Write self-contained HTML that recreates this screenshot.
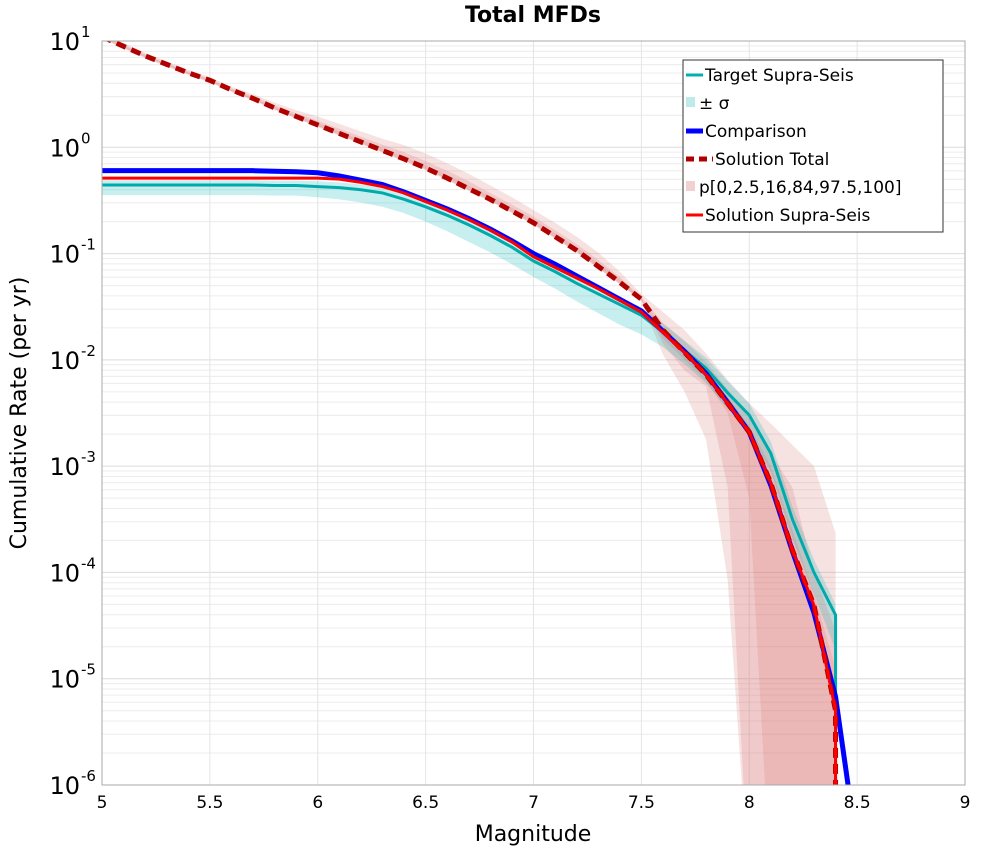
<!DOCTYPE html>
<html><head><meta charset="utf-8"><style>
body{margin:0;background:#fff;font-family:"Liberation Sans","DejaVu Sans",sans-serif}
svg text{font-family:"DejaVu Sans","Liberation Sans",sans-serif}
</style></head><body>
<svg id="chart" width="1000" height="850" viewBox="0 0 1000 850" xmlns="http://www.w3.org/2000/svg">
<text x="533" y="22" text-anchor="middle" font-size="22" font-weight="bold">Total MFDs</text>
<g id="grid"></g>
<g id="bands"></g>
<g id="lines"></g>
<rect x="102" y="41" width="863" height="744" fill="none" stroke="#aaa" stroke-width="1"/>
<g id="axes"></g>
<text x="533" y="841" text-anchor="middle" font-size="22">Magnitude</text>
<text x="0" y="0" transform="translate(26,413) rotate(-90)" text-anchor="middle" font-size="22">Cumulative Rate (per yr)</text>
<g>
<rect x="683" y="60" width="260" height="172" fill="#fff" stroke="#333" stroke-width="1"/>
<g><line x1="686" y1="75" x2="703" y2="75" stroke="#00b0b0" stroke-width="3"/><text x="705" y="81" font-size="17">Target Supra-Seis</text></g>
<g><rect x="686" y="97" width="9" height="10" fill="#bfeaea"/><text x="699" y="109" font-size="17">± σ</text></g>
<g><line x1="686" y1="131" x2="703" y2="131" stroke="#0000ff" stroke-width="5"/><text x="705" y="137" font-size="17">Comparison</text></g>
<g><line x1="686" y1="159" x2="713" y2="159" stroke="#b00000" stroke-width="5" stroke-dasharray="8,5"/><text x="715" y="165" font-size="17">Solution Total</text></g>
<g><rect x="686" y="181" width="9" height="10" fill="#f0d0d0"/><text x="699" y="193" font-size="17">p[0,2.5,16,84,97.5,100]</text></g>
<g><line x1="686" y1="215" x2="703" y2="215" stroke="#ff0000" stroke-width="3"/><text x="705" y="221" font-size="17">Solution Supra-Seis</text></g>
</g>
</svg>
<script>
const mags=[5.0,5.1,5.2,5.3,5.4,5.5,5.6,5.7,5.8,5.9,6.0,6.1,6.2,6.3,6.4,6.5,6.6,6.7,6.8,6.9,7.0,7.1,7.2,7.3,7.4,7.5,7.6,7.7,7.8,7.9,8.0,8.1,8.2,8.3,8.4,8.5];
const xTicks=[5,5.5,6,6.5,7,7.5,8,8.5,9];
const xTickLabels=["5","5.5","6","6.5","7","7.5","8","8.5","9"];
const yDecades=[1,0,-1,-2,-3,-4,-5,-6];
const targetLog=[-0.355,-0.355,-0.355,-0.355,-0.355,-0.355,-0.355,-0.355,-0.36,-0.36,-0.37,-0.38,-0.40,-0.43,-0.49,-0.56,-0.64,-0.73,-0.83,-0.94,-1.07,-1.17,-1.28,-1.38,-1.48,-1.58,-1.74,-1.91,-2.08,-2.31,-2.52,-2.88,-3.5,-4.0,-4.4,null];
const sigmaHiLog=[-0.31,-0.31,-0.31,-0.31,-0.31,-0.31,-0.31,-0.31,-0.315,-0.315,-0.32,-0.33,-0.35,-0.38,-0.44,-0.51,-0.59,-0.68,-0.78,-0.89,-1.01,-1.11,-1.22,-1.32,-1.42,-1.52,-1.66,-1.82,-1.98,-2.2,-2.41,-2.77,-3.38,-3.88,-4.3,null];
const sigmaLoLog=[-0.45,-0.45,-0.45,-0.45,-0.45,-0.45,-0.45,-0.45,-0.455,-0.455,-0.47,-0.49,-0.52,-0.56,-0.62,-0.70,-0.79,-0.89,-0.99,-1.1,-1.22,-1.33,-1.45,-1.56,-1.67,-1.76,-1.88,-2.04,-2.22,-2.46,-2.68,-3.05,-3.68,-4.2,-4.73,null];
const comparisonLog=[-0.22,-0.22,-0.22,-0.22,-0.22,-0.22,-0.22,-0.22,-0.225,-0.23,-0.24,-0.27,-0.31,-0.35,-0.42,-0.50,-0.58,-0.67,-0.77,-0.88,-1.0,-1.1,-1.21,-1.32,-1.43,-1.54,-1.73,-1.92,-2.13,-2.40,-2.68,-3.18,-3.80,-4.38,-5.17,-6.6];
const solSupraLog=[-0.29,-0.29,-0.29,-0.29,-0.29,-0.29,-0.29,-0.29,-0.29,-0.29,-0.29,-0.30,-0.33,-0.37,-0.43,-0.51,-0.59,-0.68,-0.78,-0.89,-1.03,-1.13,-1.23,-1.33,-1.44,-1.55,-1.74,-1.93,-2.14,-2.41,-2.68,-3.16,-3.79,-4.31,-5.3,null];
const solTotalLog=[1.04,0.95,0.86,0.78,0.70,0.63,0.54,0.46,0.37,0.29,0.21,0.13,0.05,-0.03,-0.11,-0.195,-0.29,-0.39,-0.49,-0.60,-0.71,-0.84,-0.97,-1.12,-1.27,-1.43,-1.72,-1.93,-2.14,-2.41,-2.68,-3.16,-3.79,-4.31,-5.3,null];
const pOuterHi=[1.07,0.98,0.89,0.81,0.73,0.66,0.57,0.50,0.42,0.35,0.29,0.22,0.15,0.08,0.02,-0.06,-0.15,-0.25,-0.36,-0.47,-0.59,-0.71,-0.84,-0.99,-1.17,-1.38,-1.55,-1.72,-1.94,-2.19,-2.41,-2.60,-2.8,-3.0,-3.63,null];
const pOuterLo=[1.02,0.93,0.84,0.76,0.68,0.61,0.52,0.44,0.35,0.27,0.19,0.11,0.03,-0.05,-0.13,-0.215,-0.31,-0.41,-0.51,-0.62,-0.73,-0.86,-0.99,-1.14,-1.29,-1.45,-1.95,-2.3,-2.75,-4.07,-7,-7,-7,-7,-7,null];
const pMidHi=[1.055,0.965,0.875,0.795,0.715,0.645,0.555,0.48,0.395,0.32,0.25,0.175,0.10,0.025,-0.045,-0.13,-0.22,-0.32,-0.43,-0.54,-0.65,-0.78,-0.91,-1.06,-1.22,-1.41,-1.65,-1.82,-2.02,-2.28,-2.54,-2.88,-3.2,-4.0,-4.55,null];
const pMidLo=[1.025,0.935,0.845,0.765,0.685,0.615,0.525,0.445,0.355,0.275,0.195,0.115,0.035,-0.045,-0.125,-0.21,-0.305,-0.405,-0.505,-0.615,-0.725,-0.855,-0.985,-1.135,-1.285,-1.44,-1.85,-2.1,-2.25,-3.2,-7,-7,-7,-7,-7,null];
const pInHi=[1.045,0.955,0.865,0.785,0.705,0.635,0.545,0.465,0.38,0.30,0.23,0.15,0.07,-0.01,-0.09,-0.17,-0.26,-0.36,-0.46,-0.57,-0.68,-0.81,-0.94,-1.09,-1.24,-1.42,-1.7,-1.88,-2.1,-2.35,-2.62,-3.0,-3.6,-4.2,-4.9,null];
const pInLo=[1.03,0.94,0.85,0.77,0.69,0.62,0.53,0.45,0.36,0.28,0.20,0.12,0.04,-0.04,-0.12,-0.205,-0.30,-0.40,-0.50,-0.61,-0.72,-0.85,-0.98,-1.13,-1.28,-1.44,-1.8,-2.0,-2.2,-2.5,-3.3,-7,-7,-7,-7,null];

const NS='http://www.w3.org/2000/svg';
const L=102,R=965,T=41,B=785,YMAX=1,YMIN=-6;
const xs=m=>L+(m-5)/(9-5)*(R-L);
const ys=lg=>T+(YMAX-lg)/(YMAX-YMIN)*(B-T);
function mk(tag,attrs,parent){const e=document.createElementNS(NS,tag);for(const k in attrs)e.setAttribute(k,attrs[k]);parent.appendChild(e);return e;}
const grid=document.getElementById('grid'),axes=document.getElementById('axes'),bands=document.getElementById('bands'),lines=document.getElementById('lines');
const defs=mk('defs',{},document.getElementById('chart'));
const cp=mk('clipPath',{id:'clip'},defs);mk('rect',{x:L,y:T,width:R-L,height:B-T},cp);
bands.setAttribute('clip-path','url(#clip)');lines.setAttribute('clip-path','url(#clip)');
for(let d=YMIN;d<YMAX;d++){for(let k=1;k<10;k++){const y=ys(d+Math.log10(k));
 const g=mk('line',{x1:L,x2:R,y1:y,y2:y,stroke:k===1?'#dcdcdc':'#ececec','stroke-width':1},grid);
 
 }}
xTicks.forEach((m,i)=>{const x=xs(m);
 const g=mk('line',{x1:x,x2:x,y1:T,y2:B,stroke:'#e4e4e4','stroke-width':1},grid);
 
 
 const t=mk('text',{x:x,y:808,'text-anchor':'middle','font-size':17},axes);t.textContent=xTickLabels[i];
 
 });
yDecades.forEach(d=>{const y=ys(d);
 const t=mk('text',{x:80,y:y+9,'text-anchor':'end','font-size':24},axes);t.textContent='10';
 
 
 const s=mk('text',{x:81,y:y-4,'font-size':15},axes);s.textContent=String(d);
 
 });
function bandPath(hi,lo){let top=[],bot=[];for(let i=0;i<mags.length;i++){if(hi[i]==null)continue;top.push([xs(mags[i]),ys(hi[i])]);bot.push([xs(mags[i]),ys(lo[i])]);}
 return 'M'+top.map(p=>p.join(',')).join('L')+'L'+bot.reverse().map(p=>p.join(',')).join('L')+'Z';}
function linePath(arr){let pts=[];for(let i=0;i<mags.length;i++){if(arr[i]==null)continue;pts.push(xs(mags[i])+','+ys(arr[i]));}return 'M'+pts.join('L');}
function dropPath(arr){const li=arr.findLastIndex(v=>v!=null);return linePath(arr)+'L'+xs(mags[li])+','+(B+5);}
const b1=mk('path',{d:bandPath(pOuterHi,pOuterLo),fill:'rgba(215,110,110,0.2)'},bands);


const b2=mk('path',{d:bandPath(pMidHi,pMidLo),fill:'rgba(215,110,110,0.2)'},bands);


const b3=mk('path',{d:bandPath(pInHi,pInLo),fill:'rgba(215,110,110,0.2)'},bands);


const bs=mk('path',{d:bandPath(sigmaHiLog,sigmaLoLog),fill:'rgba(0,180,180,0.22)'},bands);


const lt=mk('path',{d:dropPath(targetLog),fill:'none',stroke:'#00aaaa','stroke-width':3},lines);


const lc=mk('path',{d:linePath(comparisonLog),fill:'none',stroke:'#0000ff','stroke-width':5},lines);


const lst=mk('path',{d:dropPath(solTotalLog),fill:'none',stroke:'#b00000','stroke-width':5,'stroke-dasharray':'10,6'},lines);


const lss=mk('path',{d:dropPath(solSupraLog),fill:'none',stroke:'#ff0000','stroke-width':3},lines);


</script>
</body></html>
